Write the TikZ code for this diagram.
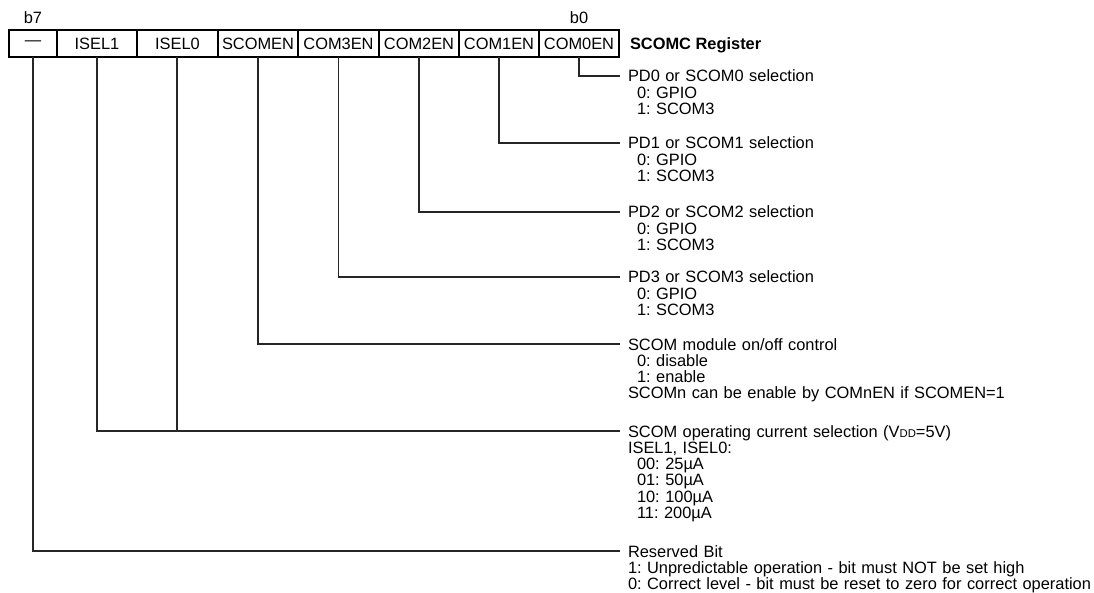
\documentclass[tikz,border=0pt]{standalone}
\usepackage{fontspec}
\setmainfont{Liberation Sans}
\frenchspacing
\begin{document}
\begin{tikzpicture}[x=1pt,y=-1pt,
  every node/.style={font=\fontsize{16.4}{16.3}\selectfont\frenchspacing, inner sep=0pt, outer sep=0pt, text=black},
  cell/.style={draw=black, line width=1.1pt, minimum height=27pt, anchor=center},
  wire/.style={line width=1.1pt, draw=black!85},
  desc/.style={anchor=base west, text width=540pt, align=left},
  bitlbl/.style={anchor=base},
  ]
\useasboundingbox (0,0) rectangle (1094,593);
% register cells
\node[cell, minimum width=48pt] (c7) at (33,43.5) {—};
\node[cell, minimum width=80pt] (c6) at (97,43.5) {ISEL1};
\node[cell, minimum width=81pt] (c5) at (177.5,43.5) {ISEL0};
\node[cell, minimum width=80pt] (c4) at (258,43.5) {SCOMEN};
\node[cell, minimum width=81pt] (c3) at (338.5,43.5) {COM3EN};
\node[cell, minimum width=80pt] (c2) at (419,43.5) {COM2EN};
\node[cell, minimum width=80pt] (c1) at (499,43.5) {COM1EN};
\node[cell, minimum width=80pt] (c0) at (579,43.5) {COM0EN};
\node[bitlbl] (b7) at (33,24) {b7};
\node[bitlbl] (b0) at (579,24) {b0};
\node[anchor=base west] (reg) at (630,49.5) {\bfseries SCOMC Register};
% line ends
\coordinate (e0) at (620,76);
\coordinate (e1) at (620,143);
\coordinate (e2) at (620,212);
\coordinate (e3) at (620,277);
\coordinate (e4) at (620,344);
\coordinate (e5) at (620,431);
\coordinate (e7) at (620,551);
% connectors
\draw[wire] (c0.south) |- (e0);
\draw[wire] (c1.south) |- (e1);
\draw[wire] (c2.south) |- (e2);
\draw[wire] (c3.south) |- (e3);
\draw[wire] (c4.south) |- (e4);
\draw[wire] (c6.south) |- (e5);
\draw[wire] ([xshift=-0.5pt]c5.south) -- ([xshift=-0.5pt]c5.south |- e5);
\draw[wire] (c7.south) |- (e7);
% descriptions
\node[desc] (d0) at (628,82) {PD0 or SCOM0 selection\\\hspace*{9pt}0: GPIO\\\hspace*{9pt}1: SCOM3};
\node[desc] (d1) at (628,149) {PD1 or SCOM1 selection\\\hspace*{9pt}0: GPIO\\\hspace*{9pt}1: SCOM3};
\node[desc] (d2) at (628,218) {PD2 or SCOM2 selection\\\hspace*{9pt}0: GPIO\\\hspace*{9pt}1: SCOM3};
\node[desc] (d3) at (628,283) {PD3 or SCOM3 selection\\\hspace*{9pt}0: GPIO\\\hspace*{9pt}1: SCOM3};
\node[desc] (d4) at (628,350) {SCOM module on/off control\\\hspace*{9pt}0: disable\\\hspace*{9pt}1: enable\\SCOMn can be enable by COMnEN if SCOMEN=1};
\node[desc] (d5) at (628,437) {SCOM operating current selection (V{\fontsize{11.3}{11.3}\selectfont DD}=5V)\\ISEL1, ISEL0:\\\hspace*{9pt}00: 25µA\\\hspace*{9pt}01: 50µA\\\hspace*{9pt}10: 100µA\\\hspace*{9pt}11: 200µA};
\node[desc] (d7) at (628,557) {Reserved Bit\\1: Unpredictable operation - bit must NOT be set high\\0: Correct level - bit must be reset to zero for correct operation};
\end{tikzpicture}
\end{document}
